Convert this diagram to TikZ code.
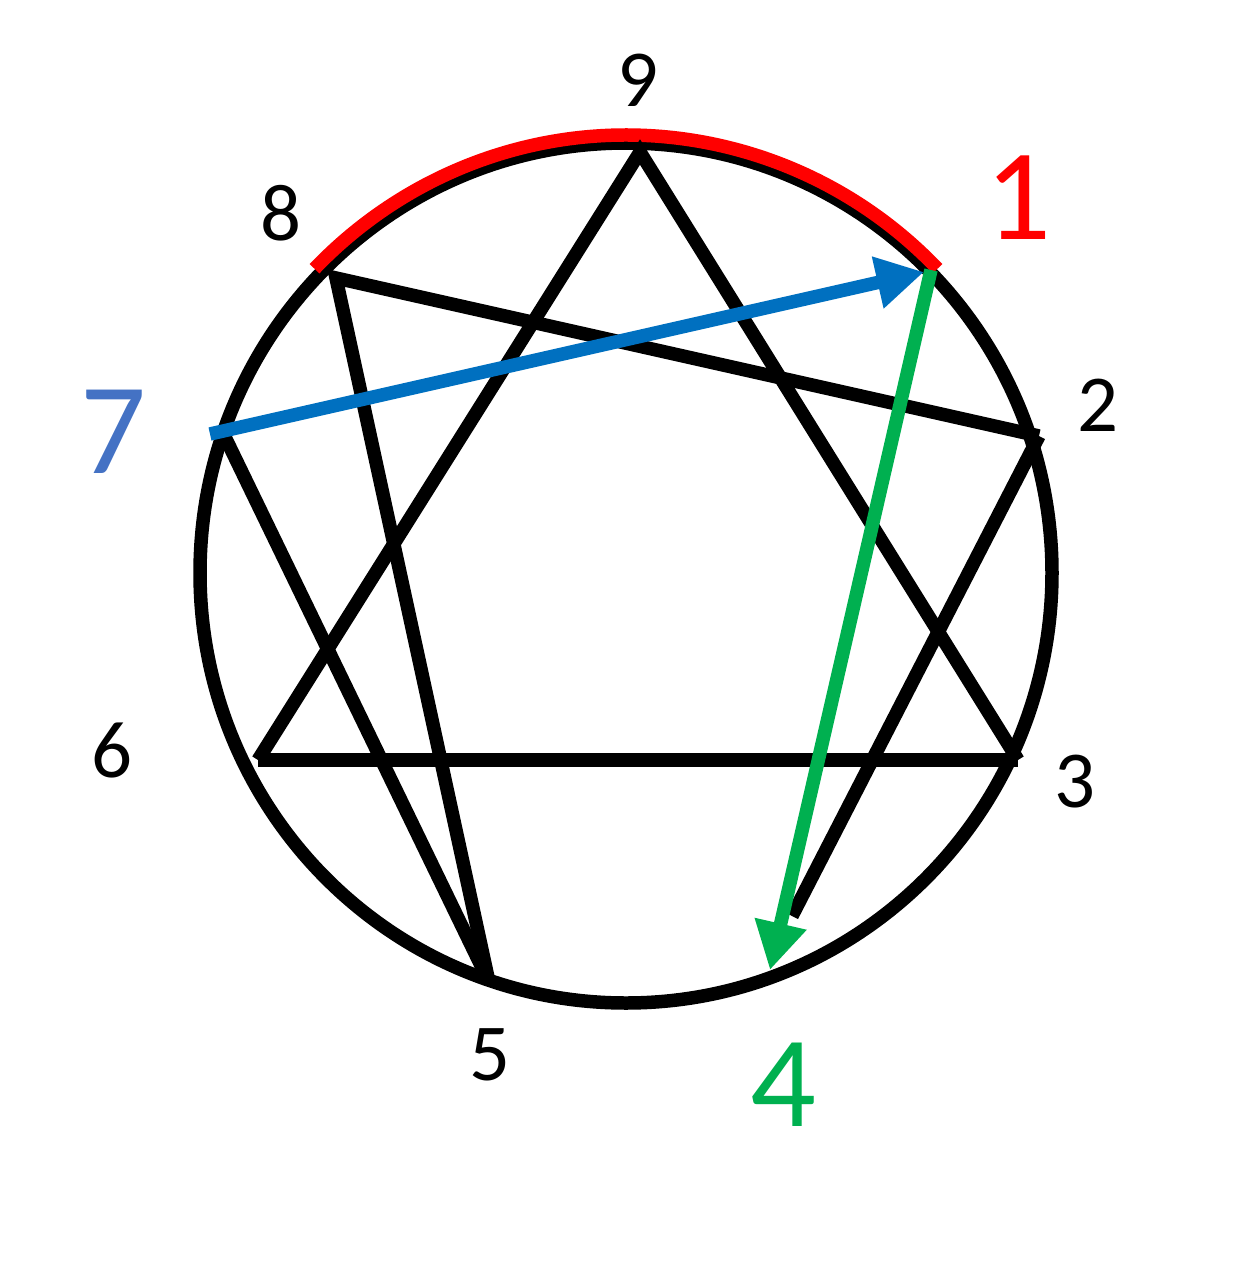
\documentclass[tikz,border=0pt]{standalone}
\usepackage{fontspec}
\setmainfont{Carlito}
\usetikzlibrary{arrows.meta,calc}
\definecolor{redc}{HTML}{FF0000}
\definecolor{bluea}{HTML}{0070C0}
\definecolor{bluet}{HTML}{4472C4}
\definecolor{greenc}{HTML}{00B050}
\begin{document}
\begin{tikzpicture}[x=0.02cm,y=-0.02cm,
  edge/.style={line width=0.27cm,black,line cap=butt,line join=miter},
  lab/.style={font=\fontsize{46}{46}\selectfont,inner sep=0pt},
  biglab/.style={font=\fontsize{74}{74}\selectfont,inner sep=0pt},
  arr/.style={line width=0.27cm,line cap=butt,-{Triangle[length=0.95cm,width=1.0cm]}}]
\useasboundingbox (0,0) rectangle (1237,1278);
% points
\coordinate (p9) at (640,152);
\coordinate (p8) at (336,278);
\coordinate (p2) at (1039,436);
\coordinate (p3) at (1018,760);
\coordinate (p6) at (258,760);
\coordinate (p5) at (489,982);
\coordinate (p7) at (225,437);
\coordinate (p4) at (792,916);
\coordinate (b7) at (210,434);
\coordinate (b1) at (924,272);
\coordinate (g1) at (931,270);
\coordinate (g4) at (770,970);
\coordinate (c) at (626,573);
% circle
\draw[line width=0.27cm] (c) ellipse [x radius=426, y radius=430];
% red arc
\draw[line width=0.27cm,redc] ($(c)+(44:433 and -438)$) arc [start angle=-44, end angle=-136, x radius=433, y radius=438];
% black lines
\draw[edge] (p6) -- (p9) -- (p3);
\draw[edge] (p6) -- (p3);
\draw[edge] (p2) -- (p8) -- (p5);
\draw[edge] (p7) -- (p5);
\draw[edge] (p2) -- (p4);
% arrows
\draw[arr,bluea] (b7) -- (b1);
\draw[arr,greenc] (g1) -- (g4);
% labels
\node[lab] (l9) at (638,80) {9};
\node[lab] (l8) at (281,213) {8};
\node[lab] (l2) at (1098,405) {2};
\node[lab] (l6) at (112,750) {6};
\node[lab] (l3) at (1075,782) {3};
\node[lab] (l5) at (490,1055) {5};
\node[biglab,text=redc] (l1) at (1018,198) {1};
\node[biglab,text=bluet] (l7) at (113,432) {7};
\node[biglab,text=greenc] (l4) at (783,1085) {4};
\end{tikzpicture}
\end{document}
